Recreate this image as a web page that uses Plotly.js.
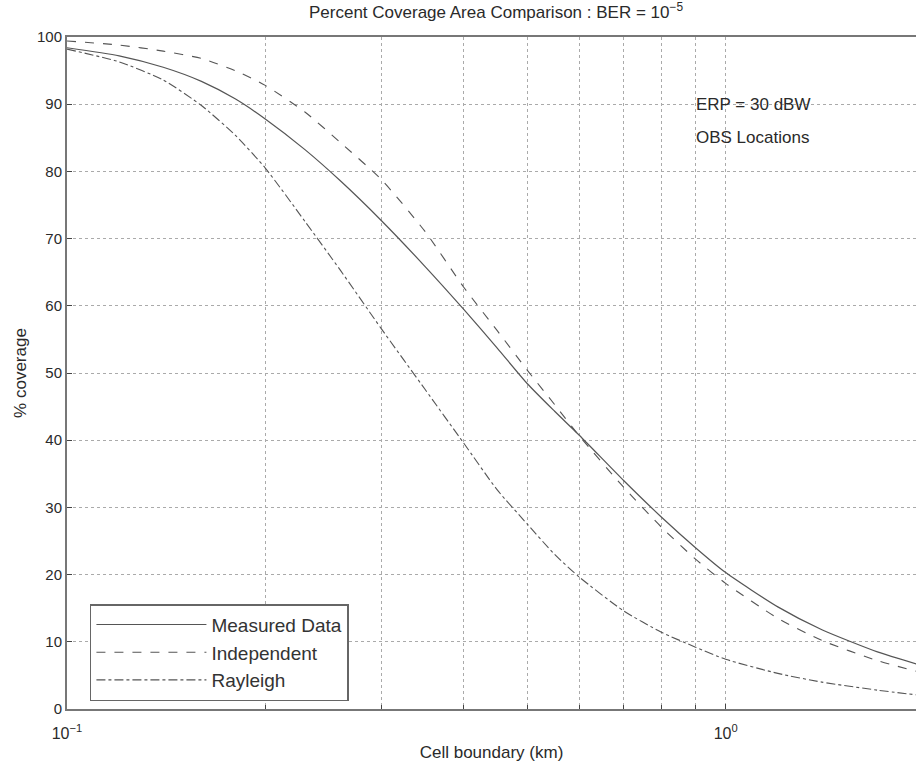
<!DOCTYPE html>
<html>
<head>
<meta charset="utf-8">
<script src="https://cdn.plot.ly/plotly-3.0.1.min.js"></script>
<style>html,body{margin:0;padding:0;background:#fff;overflow:hidden}#chart{width:916px;height:771px}</style>
</head>
<body>
<div id="chart"></div>
<script>
// Cell boundary (km)
const cellBoundary = [0.1, 0.12, 0.14, 0.16, 0.18, 0.2, 0.23, 0.26, 0.3, 0.35, 0.4, 0.45, 0.5, 0.55, 0.6, 0.7, 0.8, 0.9, 1.0, 1.2, 1.4, 1.7, 1.95];
// % coverage
const measuredData = [98.4, 97.2, 95.5, 93.4, 90.8, 87.8, 83.2, 78.6, 72.7, 65.8, 59.5, 53.7, 48.4, 44.3, 40.7, 34.0, 28.5, 24.0, 20.3, 15.2, 11.8, 8.5, 6.7];
const independent  = [99.4, 98.8, 97.9, 96.8, 95.0, 92.8, 88.8, 84.3, 78.8, 71.0, 62.8, 56.3, 50.4, 45.3, 40.6, 33.0, 27.0, 22.3, 18.7, 13.5, 10.2, 7.2, 5.6];
const rayleigh     = [98.2, 96.3, 93.6, 89.8, 85.4, 80.5, 72.5, 65.3, 56.6, 47.5, 39.6, 32.6, 27.5, 23.0, 19.6, 14.6, 11.4, 9.2, 7.4, 5.3, 4.0, 2.8, 2.1];
const seriesNames = ["Measured Data", "Independent", "Rayleigh"];
const xMajorTicks = [0.1, 1];
const xMajorLabels = ["10<sup>\u22121</sup>", "10<sup>0</sup>"];
const xMinorTicks = [0.2, 0.3, 0.4, 0.5, 0.6, 0.7, 0.8, 0.9];
const yTicks = [0, 10, 20, 30, 40, 50, 60, 70, 80, 90, 100];

const lineColor = '#555';
const font = 'Liberation Sans, Arial, sans-serif';
const txt = '#2a2a2a';

const traces = [
  {x: cellBoundary, y: measuredData, name: seriesNames[0], mode: 'lines', line: {color: lineColor, width: 1.2, dash: 'solid', shape: 'spline', smoothing: 0.6}},
  {x: cellBoundary, y: independent, name: seriesNames[1], mode: 'lines', line: {color: lineColor, width: 1.1, dash: 'dash', shape: 'spline', smoothing: 0.6}},
  {x: cellBoundary, y: rayleigh, name: seriesNames[2], mode: 'lines', line: {color: lineColor, width: 1.1, dash: 'dashdot', shape: 'spline', smoothing: 0.6}}
];

const layout = {
  width: 916, height: 771,
  margin: {l: 67, r: 0, t: 37, b: 62},
  paper_bgcolor: '#fff', plot_bgcolor: '#fff',
  font: {family: font, color: txt, size: 16},
  title: {text: 'Percent Coverage Area Comparison : BER = 10<sup>\u22125</sup>', x: 0.5415, xanchor: 'center', y: 0.984, yanchor: 'middle', yref: 'container', font: {size: 17, color: txt}},
  xaxis: {
    type: 'log', range: [-1, 0.289],
    tickmode: 'array', tickvals: xMajorTicks, ticktext: xMajorLabels,
    ticks: 'inside', ticklen: 5, tickcolor: '#444', ticklabelstandoff: 9,
    showline: true, linecolor: '#777', linewidth: 2, mirror: true,
    showgrid: true, gridcolor: '#aaa', griddash: 'dot', gridwidth: 1,
    minor: {tickmode: 'array', tickvals: xMinorTicks, ticks: 'inside', ticklen: 4, tickcolor: '#444', showgrid: true, gridcolor: '#aaa', griddash: 'dot', gridwidth: 1},
    zeroline: false,
    tickfont: {size: 16, color: txt},
    title: {text: 'Cell boundary (km)', font: {size: 17, color: txt}, standoff: 5}
  },
  yaxis: {
    range: [0, 100], tickmode: 'array', tickvals: yTicks,
    ticks: 'inside', ticklen: 5, tickcolor: '#444',
    showline: true, linecolor: '#777', linewidth: 2,
    showgrid: true, gridcolor: '#aaa', griddash: 'dot', gridwidth: 1,
    zeroline: false,
    tickfont: {size: 15, color: txt},
    title: {text: '% coverage', font: {size: 17, color: txt}, standoff: 6}
  },
  showlegend: true,
  legend: {
    x: 0.027, y: 0.156, xanchor: 'left', yanchor: 'top',
    bgcolor: '#fff', bordercolor: '#666', borderwidth: 1.5,
    font: {size: 19, color: '#333', family: font},
    itemwidth: 110, tracegroupgap: 0
  },
  annotations: [
    {x: Math.log10(0.894), y: 90, xref: 'x', yref: 'y', text: 'ERP = 30 dBW', showarrow: false, xanchor: 'left', yanchor: 'middle', font: {size: 17, color: txt}},
    {x: Math.log10(0.894), y: 85, xref: 'x', yref: 'y', text: 'OBS Locations', showarrow: false, xanchor: 'left', yanchor: 'middle', font: {size: 17, color: txt}}
  ]
};

Plotly.newPlot('chart', traces, layout, {staticPlot: true, displayModeBar: false});
</script>
</body>
</html>
